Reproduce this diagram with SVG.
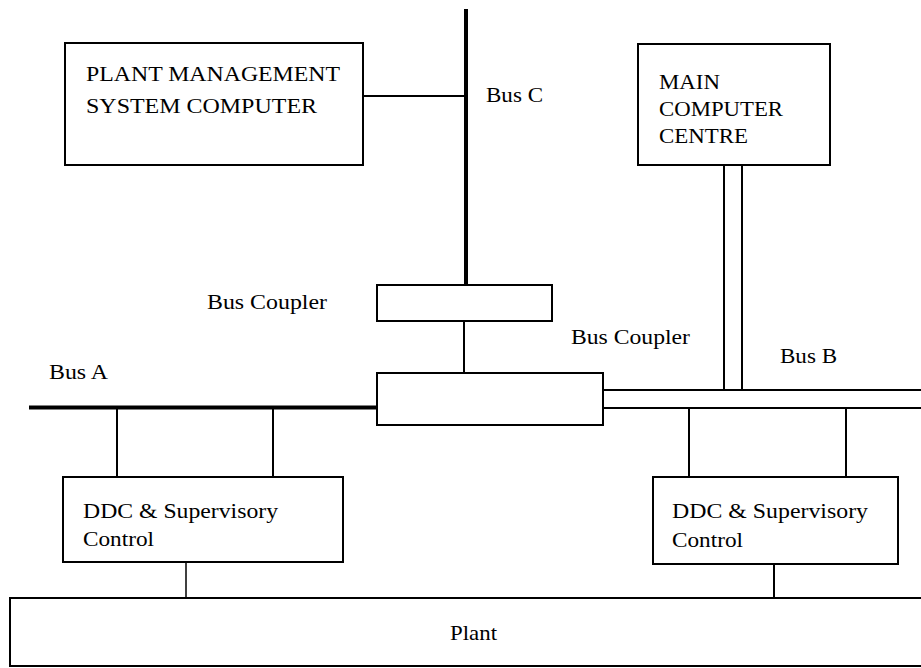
<svg xmlns="http://www.w3.org/2000/svg" width="921" height="668" viewBox="0 0 921 668">
  <style>
    .box { fill: #fff; stroke: #000; stroke-width: 2; }
    .wire { stroke: #000; stroke-width: 2; fill: none; }
    .thin { stroke: #000; stroke-width: 1.5; fill: none; }
    .bus { stroke: #000; stroke-width: 4; fill: none; }
    .lbl { font-family: "Liberation Serif", "Times New Roman", serif; font-size: 21px; fill: #000; }
    .cap { font-family: "Liberation Serif", "Times New Roman", serif; font-size: 20px; fill: #000; }
  </style>
  <rect width="921" height="668" fill="#fff"/>

  <g id="connectors">
    <!-- Bus C with tap to management computer -->
    <line class="bus" x1="466" y1="9" x2="466" y2="285"/>
    <line class="wire" x1="363" y1="96" x2="466" y2="96"/>
    <!-- coupler to coupler -->
    <line class="wire" x1="464" y1="321" x2="464" y2="373"/>
    <!-- Bus A -->
    <line class="bus" x1="29" y1="407.5" x2="377" y2="407.5"/>
    <line class="wire" x1="117" y1="409" x2="117" y2="477"/>
    <line class="wire" x1="273" y1="409" x2="273" y2="477"/>
    <!-- Bus B (double line) -->
    <line class="wire" x1="603" y1="390" x2="921" y2="390"/>
    <line class="wire" x1="603" y1="408" x2="921" y2="408"/>
    <!-- pipe from main computer centre -->
    <line class="wire" x1="724" y1="165" x2="724" y2="390"/>
    <line class="wire" x1="742" y1="165" x2="742" y2="390"/>
    <line class="wire" x1="689" y1="408" x2="689" y2="477"/>
    <line class="wire" x1="846" y1="408" x2="846" y2="477"/>
    <!-- controllers to plant -->
    <line class="thin" x1="186" y1="562" x2="186" y2="598"/>
    <line class="wire" x1="774" y1="564" x2="774" y2="598"/>
  </g>

  <g id="plant-management">
    <rect class="box" x="65" y="43" width="298" height="122"/>
    <text class="cap" x="86" y="81" textLength="254" lengthAdjust="spacingAndGlyphs">PLANT MANAGEMENT</text>
    <text class="cap" x="86" y="113" textLength="231" lengthAdjust="spacingAndGlyphs">SYSTEM COMPUTER</text>
  </g>

  <g id="bus-c-label">
    <text class="lbl" x="486" y="102" textLength="57" lengthAdjust="spacingAndGlyphs">Bus C</text>
  </g>

  <g id="main-computer">
    <rect class="box" x="638" y="44" width="192" height="121"/>
    <text class="lbl" x="659" y="89" textLength="61" lengthAdjust="spacingAndGlyphs">MAIN</text>
    <text class="lbl" x="659" y="116" textLength="124" lengthAdjust="spacingAndGlyphs">COMPUTER</text>
    <text class="lbl" x="659" y="143" textLength="89" lengthAdjust="spacingAndGlyphs">CENTRE</text>
  </g>

  <g id="coupler-upper">
    <rect class="box" x="377" y="285" width="175" height="36"/>
    <text class="lbl" x="207" y="309" textLength="120" lengthAdjust="spacingAndGlyphs">Bus Coupler</text>
  </g>

  <g id="coupler-lower">
    <rect class="box" x="377" y="373" width="226" height="52"/>
    <text class="lbl" x="571" y="344" textLength="119" lengthAdjust="spacingAndGlyphs">Bus Coupler</text>
  </g>

  <g id="bus-labels">
    <text class="lbl" x="49" y="379" textLength="59" lengthAdjust="spacingAndGlyphs">Bus A</text>
    <text class="lbl" x="780" y="363" textLength="57" lengthAdjust="spacingAndGlyphs">Bus B</text>
  </g>

  <g id="ddc-left">
    <rect class="box" x="63" y="477" width="280" height="85"/>
    <text class="lbl" x="83" y="518" textLength="195" lengthAdjust="spacingAndGlyphs">DDC &amp; Supervisory</text>
    <text class="lbl" x="83" y="546" textLength="71" lengthAdjust="spacingAndGlyphs">Control</text>
  </g>

  <g id="ddc-right">
    <rect class="box" x="653" y="477" width="245" height="87"/>
    <text class="lbl" x="672" y="518" textLength="196" lengthAdjust="spacingAndGlyphs">DDC &amp; Supervisory</text>
    <text class="lbl" x="672" y="547" textLength="71" lengthAdjust="spacingAndGlyphs">Control</text>
  </g>

  <g id="plant">
    <rect class="box" x="10" y="598" width="914" height="68"/>
    <text class="lbl" x="450" y="640" textLength="47" lengthAdjust="spacingAndGlyphs">Plant</text>
  </g>
</svg>
